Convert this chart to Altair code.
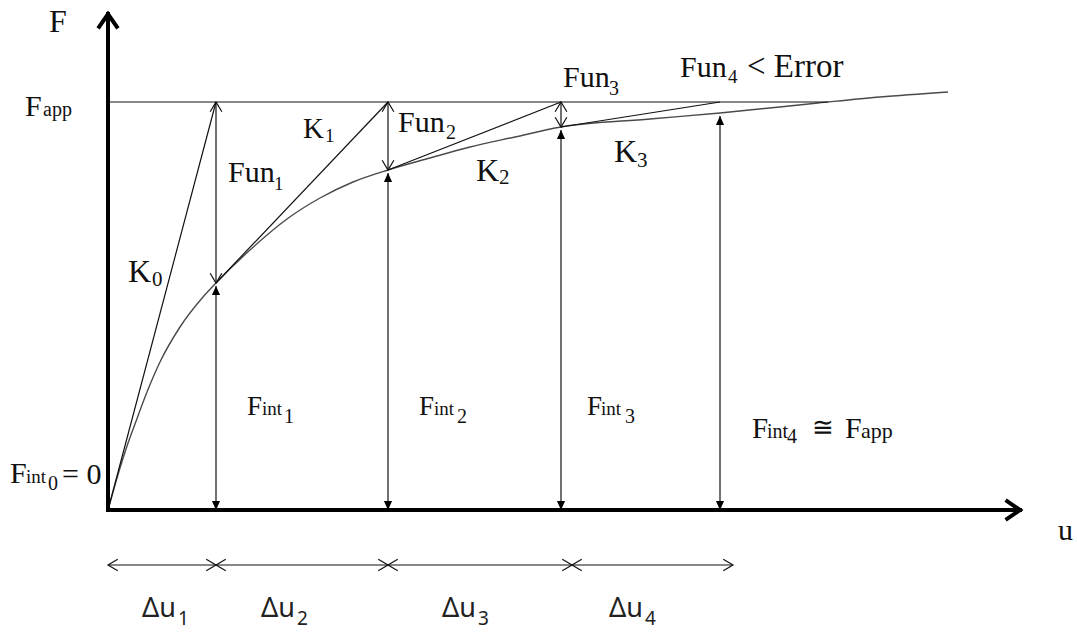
import altair as alt
import numpy as np
import pandas as pd

# ---- Newton-Raphson iteration values (displacement u, force F) ----
u_steps = [0.0, 1.08, 2.80, 4.53, 6.12]      # u0 .. u4
f_int = [0.0, 2.27, 3.40, 3.83, 3.97]        # internal force at u0 .. u4
f_app = 4.08                                  # applied load

# load-displacement curve of the structure
curve_u = [0.00, 0.05, 0.12, 0.18, 0.27, 0.39, 0.52, 0.72, 0.95, 1.08, 1.42, 1.79,
           2.12, 2.45, 2.80, 3.22, 3.62, 4.07, 4.53, 5.42, 6.12, 7.10, 7.72, 8.40]
curve_f = [0.00, 0.18, 0.42, 0.61, 0.86, 1.18, 1.48, 1.83, 2.13, 2.27, 2.60, 2.91,
           3.12, 3.28, 3.40, 3.52, 3.63, 3.73, 3.83, 3.91, 3.97, 4.07, 4.13, 4.18]

# increments drawn under the u axis
du_edges = [0.0, 1.08, 2.80, 4.64, 6.25]
du_level = -0.55

# axis extents
u_axis_end = 9.12
f_axis_end = 4.96

# text pieces: (text, u, F, font size)
serif_labels = [
    ("F", -0.59, 4.78, 32),
    ("F", -0.83, 3.94, 30), ("app", -0.65, 3.94, 20),
    ("F", -0.98, 0.27, 30), ("int", -0.82, 0.27, 19), ("0", -0.60, 0.20, 20), ("= 0", -0.46, 0.26, 30),
    ("K", 0.20, 2.28, 32), ("0", 0.44, 2.24, 21),
    ("K", 1.95, 3.72, 29), ("1", 2.17, 3.68, 19),
    ("K", 3.68, 3.29, 32), ("2", 3.91, 3.26, 21),
    ("K", 5.06, 3.48, 32), ("3", 5.29, 3.43, 21),
    ("Fun", 1.20, 3.28, 30), ("1", 1.66, 3.20, 19),
    ("Fun", 2.90, 3.78, 30), ("2", 3.38, 3.71, 20),
    ("Fun", 4.55, 4.23, 30), ("3", 5.01, 4.15, 20),
    ("Fun", 5.72, 4.33, 30), ("4", 6.20, 4.27, 19), ("< Error", 6.39, 4.33, 33),
    ("F", 1.39, 0.95, 27), ("int", 1.54, 0.95, 19), ("1", 1.76, 0.87, 20),
    ("F", 3.11, 0.95, 27), ("int", 3.26, 0.95, 19), ("2", 3.49, 0.87, 20),
    ("F", 4.79, 0.95, 27), ("int", 4.93, 0.95, 19), ("3", 5.17, 0.87, 20),
    ("F", 6.44, 0.72, 29), ("int", 6.59, 0.72, 20), ("4", 6.79, 0.67, 20),
    ("≅", 7.04, 0.74, 26), ("F", 7.37, 0.72, 30), ("app", 7.53, 0.72, 22),
    ("u", 9.50, -0.30, 30),
]
sans_labels = [
    ("Δu", 0.34, -1.07, 27), ("1", 0.70, -1.15, 19),
    ("Δu", 1.53, -1.07, 27), ("2", 1.89, -1.15, 19),
    ("Δu", 3.34, -1.07, 27), ("3", 3.70, -1.15, 19),
    ("Δu", 5.01, -1.07, 27), ("4", 5.37, -1.15, 19),
]

# ---- derived tables ----
xs = alt.Scale(domain=[-1.08, 9.69], nice=False, zero=False)
ys = alt.Scale(domain=[-1.22, 5.10], nice=False, zero=False)


def X(f):
    return alt.X(f, type="quantitative", scale=xs, axis=None)


def Y(f):
    return alt.Y(f, type="quantitative", scale=ys, axis=None)


curve_df = pd.DataFrame({"u": curve_u, "f": curve_f})

# where the curve reaches the applied load
f_app_end = float(np.interp(f_app, curve_f, curve_u))

thin_segs, chevrons, triangles = [], [], []
gap = 0.03
# tangent stiffness lines K0..K3
for k in range(4):
    thin_segs.append((u_steps[k], f_int[k], u_steps[k + 1], f_app))
# applied load level
thin_segs.append((0.0, f_app, f_app_end, f_app))
# unbalanced force arrows Fun1..Fun3
for k in range(1, 4):
    thin_segs.append((u_steps[k], f_int[k], u_steps[k], f_app))
    chevrons.append((u_steps[k], f_app, 0))
    chevrons.append((u_steps[k], f_int[k], 180))
# internal force arrows Fint1..Fint4
for k in range(1, 5):
    top = f_int[k] - gap
    thin_segs.append((u_steps[k], top, u_steps[k], 0.0))
    triangles.append((u_steps[k], top, 0))
    triangles.append((u_steps[k], 0.0, 180))
# displacement increments
for k in range(4):
    thin_segs.append((du_edges[k], du_level, du_edges[k + 1], du_level))
    chevrons.append((du_edges[k], du_level, 270))
    chevrons.append((du_edges[k + 1], du_level, 90))

seg_df = pd.DataFrame(thin_segs, columns=["u", "f", "u2", "f2"])
chev_df = pd.DataFrame(chevrons, columns=["u", "f", "rot"])
tri_df = pd.DataFrame(triangles, columns=["u", "f", "rot"])
axis_df = pd.DataFrame([(0.0, 0.0, 0.0, f_axis_end), (0.0, 0.0, u_axis_end, 0.0)],
                       columns=["u", "f", "u2", "f2"])
axis_tip_df = pd.DataFrame([(0.0, f_axis_end, 0), (u_axis_end, 0.0, 90)],
                           columns=["u", "f", "rot"])
serif_df = pd.DataFrame(serif_labels, columns=["text", "u", "f", "size"])
sans_df = pd.DataFrame(sans_labels, columns=["text", "u", "f", "size"])

CHEVRON = "M-0.6,1L0,0L0.6,1"
TRIANGLE = "M0,0L-0.45,1L0.45,1Z"
AXIS_HEAD = "M-0.55,0.8L0,0L0.55,0.8"

curve = alt.Chart(curve_df).mark_line(
    interpolate="monotone", color="#4a4a4a", strokeWidth=1.4
).encode(x=X("u"), y=Y("f"), order="u:Q")

segments = alt.Chart(seg_df).mark_rule(color="#111111", strokeWidth=1.2).encode(
    x=X("u"), y=Y("f"), x2="u2", y2="f2")

axes = alt.Chart(axis_df).mark_rule(color="#000000", strokeWidth=4, strokeCap="square").encode(
    x=X("u"), y=Y("f"), x2="u2", y2="f2")

axis_heads = alt.Chart(axis_tip_df).mark_point(
    shape=AXIS_HEAD, filled=False, stroke="#000000", strokeWidth=4, size=1300,
    opacity=1, strokeJoin="miter"
).encode(x=X("u"), y=Y("f"), angle=alt.Angle("rot:Q", scale=None))

chev = alt.Chart(chev_df).mark_point(
    shape=CHEVRON, filled=False, stroke="#111111", strokeWidth=1.2, size=380, opacity=1
).encode(x=X("u"), y=Y("f"), angle=alt.Angle("rot:Q", scale=None))

tri = alt.Chart(tri_df).mark_point(
    shape=TRIANGLE, filled=True, color="#000000", size=330, opacity=1
).encode(x=X("u"), y=Y("f"), angle=alt.Angle("rot:Q", scale=None))

serif_text = alt.Chart(serif_df).mark_text(
    font="Liberation Serif, DejaVu Serif, serif", align="left", baseline="alphabetic",
    color="#111111"
).encode(x=X("u"), y=Y("f"), text="text:N", size=alt.Size("size:Q", scale=None))

sans_text = alt.Chart(sans_df).mark_text(
    font="Noto Sans, Open Sans, DejaVu Sans, sans-serif", align="left", baseline="alphabetic",
    color="#222222"
).encode(x=X("u"), y=Y("f"), text="text:N", size=alt.Size("size:Q", scale=None))

chart = alt.layer(
    curve, segments, axes, axis_heads, chev, tri, serif_text, sans_text
).properties(
    width=1077, height=632, autosize=alt.AutoSizeParams(type="none"), padding=0,
    background="white"
).configure_view(strokeWidth=0)

chart.save("out.html", embed_options={"renderer": "svg", "actions": False})
